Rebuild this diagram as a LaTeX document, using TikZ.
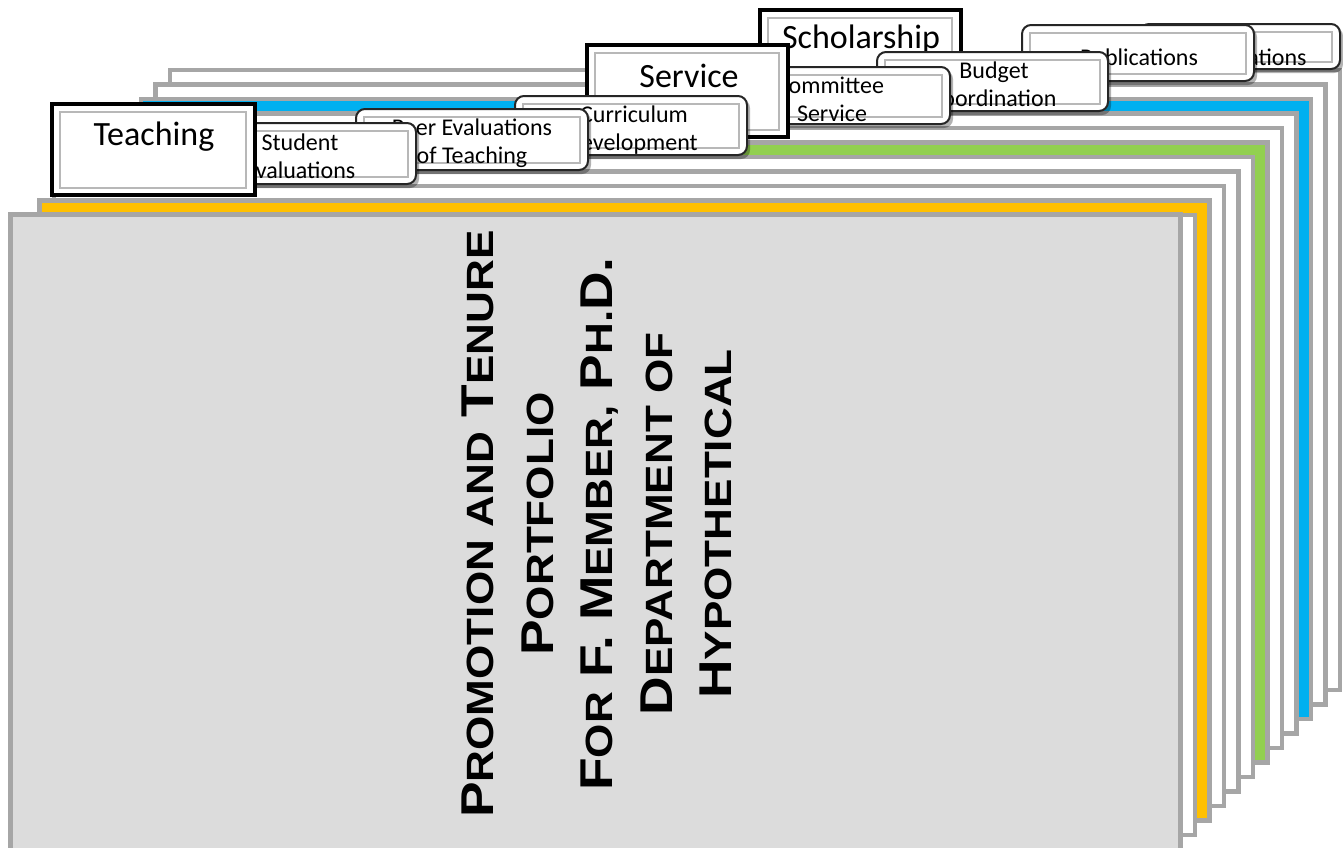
\documentclass[tikz,border=0pt]{standalone}
\usepackage{fontspec}
\setmainfont{Carlito}
\newfontfamily\titlefont{Liberation Sans}[FakeStretch=1.16]
\definecolor{sheetgray}{HTML}{A6A6A6}
\definecolor{covergray}{HTML}{DCDCDC}
\definecolor{tabyellow}{HTML}{FFC000}
\definecolor{tabgreen}{HTML}{92D050}
\definecolor{tabblue}{HTML}{00B0F0}
\tikzset{
  sheet/.style={draw=sheetgray, line width=4.5pt, fill=white},
  maintab/.style={draw=black, line width=4pt, fill=white},
  subtab/.style={draw=black!85, line width=2pt, fill=white},
  bevel/.style={draw=black!28, line width=2.5pt},
  tabshadow/.style={fill=black, opacity=0.3},
  bigtab/.style={font=\fontsize{34}{40}\selectfont, anchor=base, inner sep=0pt},
  smalltab/.style={font=\fontsize{24}{28}\selectfont, anchor=base, inner sep=0pt},
  titletext/.style={rotate=90, align=center, inner sep=0pt,
    font=\titlefont\bfseries\fontsize{46}{59.5}\selectfont},
}
\newcommand{\SubTab}[4]{%
  \fill[tabshadow] ({#1+3},{#4+4}) [rounded corners=9pt] -- ({#1+3},{#2+3}) -- ({#3+3},{#2+3}) -- ({#3+3},{#4+4}) [sharp corners] -- cycle;
  \path[subtab] (#1,#4) [rounded corners=9pt] -- (#1,#2) -- (#3,#2) -- (#3,#4) [sharp corners] -- cycle;
  \draw[bevel] ({#1+8},{#2+8}) rectangle ({#3-8},{#4-7});
}
\newcommand{\MainTab}[4]{%
  \draw[maintab] ({#1+2},{#2+2}) rectangle ({#3-2},{#4-2});
  \draw[bevel] ({#1+10},{#2+10}) rectangle ({#3-11},{#4-9});
}
\newcommand{\Sm}[1]{{\fontsize{38}{59.5}\selectfont #1}}
\begin{document}
\begin{tikzpicture}[x=1pt,y=-1pt]
\useasboundingbox (0,0) rectangle (1343,847);
% L
\draw[sheet] (170,70) rectangle (1340,690);
\SubTab{1140}{24}{1340}{69}
\node[smalltab] (pres) at (1240,65) {Presentations};
% K
\draw[sheet] (155.5,84.5) rectangle (1325.5,704.5);
\SubTab{1022}{25}{1254}{81}
\node[smalltab] (pub) at (1139,65) {Publications};
% J (blue)
\draw[sheet, fill=tabblue] (141,99) rectangle (1311,719);
\MainTab{758}{8}{963}{99}
\node[bigtab] (schol) at (861,48) {Scholarship};
% I
\draw[sheet] (126.5,113.5) rectangle (1296.5,733.5);
\SubTab{877}{52}{1108}{111}
\node[smalltab] (bud1) at (994,78) {Budget};
\node[smalltab] (bud2) at (993,106) {Coordination};
% H
\draw[sheet] (112,128) rectangle (1282,748);
\SubTab{720}{67}{950}{124}
\node[smalltab] (com1) at (830,93) {Committee};
\node[smalltab] (com2) at (832,121) {Service};
% G (green)
\draw[sheet, fill=tabgreen] (97.5,142.5) rectangle (1267.5,762.5);
\MainTab{585}{43}{790}{139}
\node[bigtab] (serv) at (689,87) {Service};
% F
\draw[sheet] (83,157) rectangle (1253,777);
\SubTab{515}{96}{747}{155}
\node[smalltab] (cur1) at (634,122) {Curriculum};
\node[smalltab] (cur2) at (632,150) {Development};
% E
\draw[sheet] (68.5,171.5) rectangle (1238.5,791.5);
\SubTab{356}{109}{588}{170}
\node[smalltab] (peer1) at (472,135) {Peer Evaluations};
\node[smalltab] (peer2) at (472,163) {of Teaching};
% D
\draw[sheet] (54,186) rectangle (1224,806);
\SubTab{190}{123}{416}{184}
\node[smalltab] (stu1) at (300,150) {Student};
\node[smalltab] (stu2) at (300,178) {Evaluations};
% C (yellow)
\draw[sheet, fill=tabyellow] (39.5,200.5) rectangle (1209.5,820.5);
\MainTab{50}{102}{257}{197}
\node[bigtab] (teach) at (154,145) {Teaching};
% B
\draw[sheet] (25,215) rectangle (1195,835);
% A (cover)
\draw[sheet, fill=covergray] (10.5,214.5) rectangle (1180.5,870);
\node[titletext] (title) at (597,524) {P\Sm{ROMOTION AND} T\Sm{ENURE}\\ P\Sm{ORTFOLIO}\\ F\Sm{OR} F. M\Sm{EMBER,} P\Sm{H.}D.\\ D\Sm{EPARTMENT OF}\\ H\Sm{YPOTHETICAL}};
\end{tikzpicture}
\end{document}
